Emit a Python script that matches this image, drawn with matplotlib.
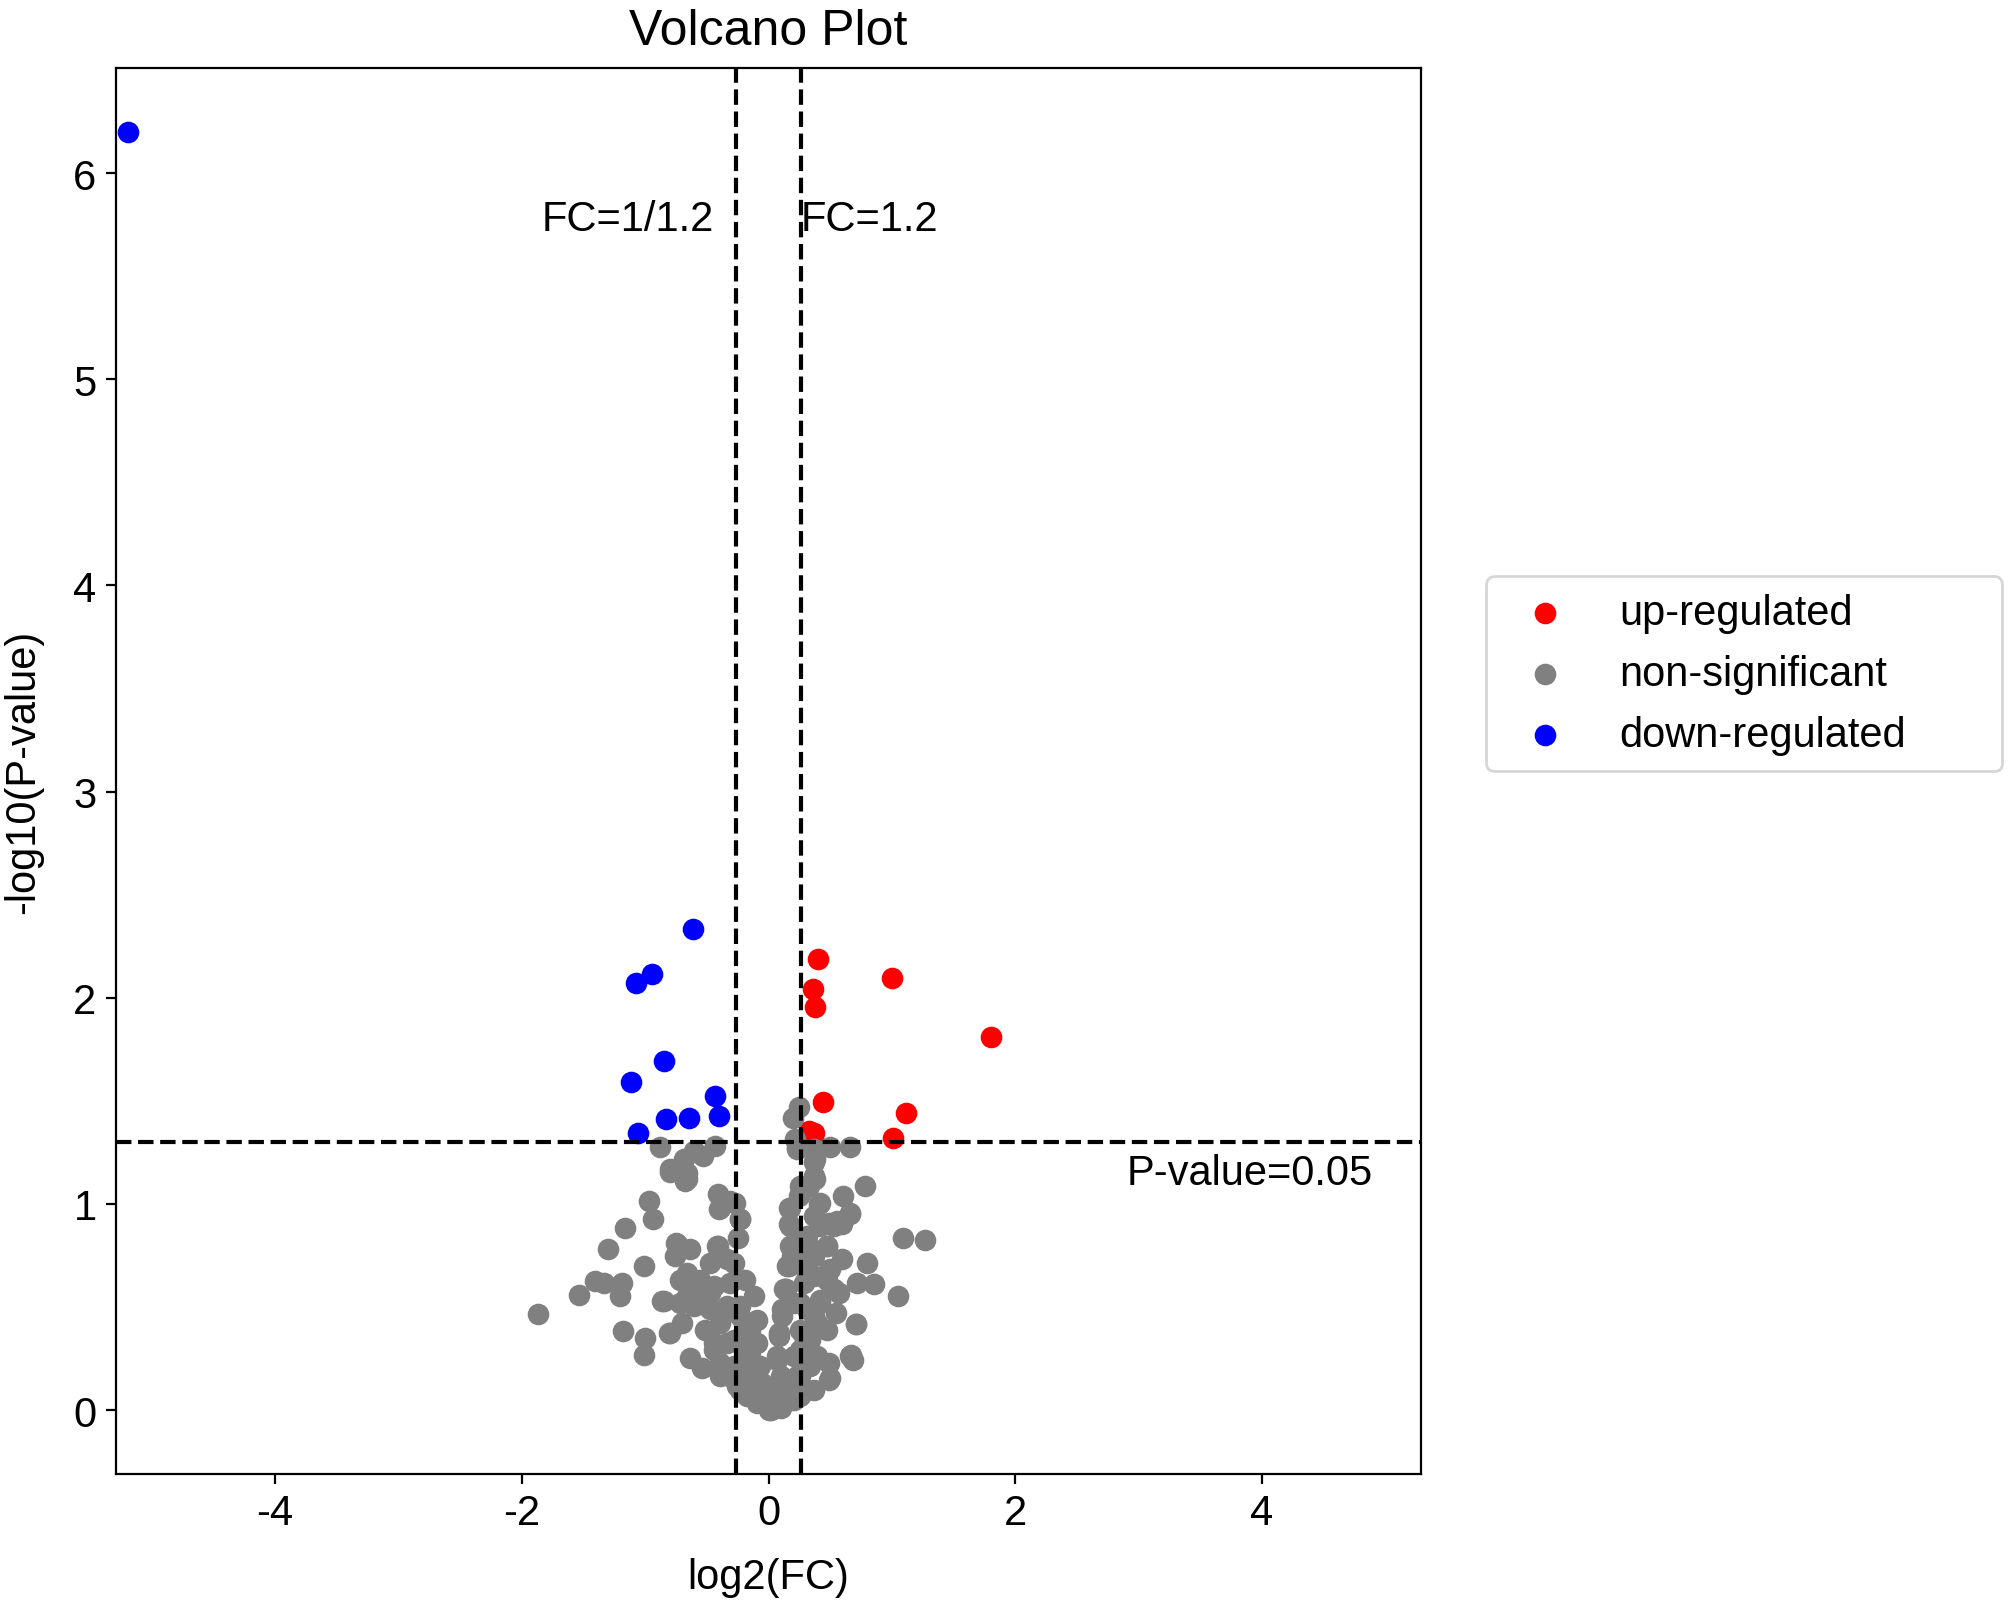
import numpy as np
import matplotlib
matplotlib.use("Agg")
import matplotlib.pyplot as plt

plt.rcParams['font.family'] = ['Liberation Sans', 'DejaVu Sans']
plt.rcParams['font.size'] = 15
plt.rcParams['axes.unicode_minus'] = False

# thresholds
fc_cut = 1.2
p_cut = 0.05

# up-regulated genes (log2 FC, -log10 p)
up_fc = [0.398, 1.000, 0.357, 0.375, 1.803, 0.438, 1.113, 0.330, 0.367, 1.009]
up_logp = [2.187, 2.095, 2.043, 1.954, 1.810, 1.492, 1.443, 1.355, 1.343, 1.320]

# down-regulated genes
down_fc = [-5.19, -0.613, -0.946, -1.077, -0.851, -1.117, -0.436, -0.833, -0.648, -0.405, -1.062]
down_logp = [6.20, 2.333, 2.115, 2.072, 1.692, 1.589, 1.523, 1.414, 1.419, 1.425, 1.343]

# non-significant genes
ns_fc = [
    -0.882, -0.431, -0.531, -0.682, -0.606, -0.801, -0.661, -0.674, -0.971, -0.939,
    -0.412, -0.404, -0.309, -0.233, -0.249, -1.161, -1.304, -1.006, -1.404, -1.331,
    -1.188, -1.201, -1.539, -1.871, -0.863, -1.182, -1.004, -1.012, -0.809, -0.747,
    -0.633, -0.755, -0.412, -0.471, -0.282, -0.187, -0.309, -0.120, -0.715, -0.606,
    -0.444, -0.661, -0.715, -0.552, -0.471, -0.390, -0.701, -0.512, -0.633, -0.539,
    -0.444, -0.390, -0.323, -0.255, -0.174, -0.093, 0.002, -0.174, -0.201, -0.147,
    -0.228, -0.093, -0.066, -0.039, -0.282,
    -0.797, -0.660, -0.390, -0.268, -0.228, -0.742, -0.417, -0.336, -0.660, -0.552,
    -0.850, -0.606, -0.471, -0.336, -0.228, -0.796, -0.390, -0.201, -0.093, -0.444,
    -0.336, -0.174, -0.390, -0.282, -0.147, -0.228, -0.120, -0.039, -0.147, -0.053,
    0.245, 0.197, 0.218, 0.231, 0.367, 0.502, 0.659, 0.380, 0.367, 0.326,
    0.786, 0.605, 0.259, 0.177, 0.164, 0.407, 0.367, 0.659, 0.597, 0.489,
    1.092, 1.269, 0.205, 0.313, 0.475, 0.367, 0.597, 0.800, 0.164, 0.502,
    0.475, 0.718, 0.853, 0.570, 0.140, 0.286, 1.048, 0.543, 0.710, 0.475,
    0.670, 0.686, 0.489, 0.502, 0.367, 0.259, 0.177, 0.097, 0.083, 0.069,
    0.083, 0.110, 0.123, 0.367, 0.340, 0.394, 0.259, 0.259, 0.177, 0.421,
    0.259, 0.529, 0.367, 0.191,
    0.016, 0.069, 0.124, 0.205, 0.313, 0.097, 0.069, 0.083, 0.110, 0.137,
    0.151, 0.178, 0.178, 0.164, 0.245, 0.259, 0.380, 0.367, 0.232, 0.421,
    0.664, 0.556, 0.421, 0.313, 0.475, 0.286, 0.313, 0.475, 0.529, 0.421,
    0.313, 0.705, 0.286, 0.664, 0.489, 0.340, 0.205, 0.232, 0.259, 0.205,
    0.394,
]
ns_logp = [
    1.274, 1.282, 1.233, 1.217, 1.257, 1.155, 1.152, 1.111, 1.014, 0.925,
    1.047, 0.977, 1.014, 0.925, 0.836, 0.885, 0.783, 0.698, 0.628, 0.617,
    0.617, 0.552, 0.557, 0.466, 0.528, 0.382, 0.350, 0.269, 0.374, 0.812,
    0.779, 0.747, 0.795, 0.714, 0.714, 0.633, 0.617, 0.552, 0.633, 0.617,
    0.601, 0.552, 0.520, 0.520, 0.488, 0.471, 0.422, 0.390, 0.252, 0.204,
    0.325, 0.228, 0.163, 0.115, 0.066, 0.034, 0.001, 0.163, 0.293, 0.390,
    0.455, 0.325, 0.212, 0.115, 0.342,
    1.168, 1.120, 0.982, 1.006, 0.925, 0.804, 0.795, 0.731, 0.666, 0.633,
    0.528, 0.504, 0.568, 0.504, 0.504, 0.374, 0.423, 0.423, 0.439, 0.293,
    0.325, 0.342, 0.163, 0.212, 0.261, 0.099, 0.066, 0.034, 0.147, 0.131,
    1.468, 1.419, 1.314, 1.274, 1.265, 1.278, 1.274, 1.217, 1.136, 1.087,
    1.087, 1.039, 1.047, 0.982, 0.901, 0.998, 0.941, 0.952, 0.901, 0.909,
    0.833, 0.823, 0.812, 0.812, 0.795, 0.747, 0.734, 0.714, 0.698, 0.682,
    0.633, 0.617, 0.612, 0.568, 0.585, 0.617, 0.552, 0.471, 0.415, 0.390,
    0.269, 0.245, 0.228, 0.155, 0.099, 0.066, 0.050, 0.010, 0.131, 0.245,
    0.374, 0.488, 0.585, 0.455, 0.342, 0.261, 0.293, 0.163, 0.147, 0.520,
    0.520, 0.893, 0.650, 0.747,
    0.001, 0.050, 0.099, 0.050, 0.099, 0.163, 0.261, 0.358, 0.455, 0.585,
    0.698, 0.795, 0.893, 0.982, 1.038, 1.087, 1.120, 1.201, 1.265, 1.006,
    0.957, 0.917, 0.893, 0.844, 0.795, 0.731, 0.650, 0.666, 0.585, 0.536,
    0.488, 0.415, 0.358, 0.261, 0.147, 0.212, 0.261, 0.163, 0.390, 0.520,
    0.423,
]

fig = plt.figure(figsize=(10.07, 8.03), dpi=200)
ax = fig.add_subplot(111)
fig.subplots_adjust(left=0.0576, right=0.7056, bottom=0.0816, top=0.957)

ax.scatter(up_fc, up_logp, s=46, color='red', label='up-regulated', zorder=2)
ax.scatter(ns_fc, ns_logp, s=46, color='grey', label='non-significant', zorder=2)
ax.scatter(down_fc, down_logp, s=46, color='blue', label='down-regulated', zorder=2)

xl = np.log2(fc_cut)
yl = -np.log10(p_cut)
ax.axvline(-xl, color='black', linestyle='--', lw=1.5, zorder=3)
ax.axvline(xl, color='black', linestyle='--', lw=1.5, zorder=3)
ax.axhline(yl, color='black', linestyle='--', lw=1.5, zorder=3)

ax.text(-xl - 0.18, 5.78, 'FC=1/1.2', ha='right', va='center')
ax.text(xl, 5.78, 'FC=1.2', ha='left', va='center')
ax.text(4.9, 1.15, 'P-value=0.05', ha='right', va='center')

ax.set_xlim(-5.29, 5.29)
ax.set_ylim(-0.31, 6.51)
ax.set_xticks([-4, -2, 0, 2, 4])
ax.set_xlabel('log2(FC)', labelpad=8.5)
ax.set_ylabel('-log10(P-value)', labelpad=11)
ax.set_title('Volcano Plot', fontsize=18, pad=8.5)

ax.legend(loc='center left', bbox_to_anchor=(1.05, 0.469, 0.395, 0.2),
          mode='expand', borderaxespad=0)

plt.savefig('out.png', dpi=200)
plt.close()
